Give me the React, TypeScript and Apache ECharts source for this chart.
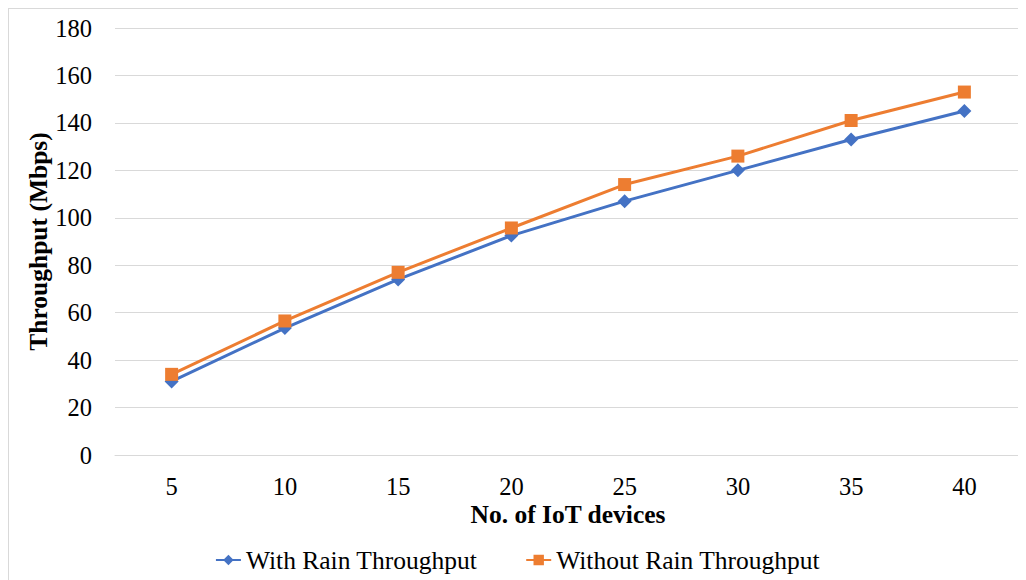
import React, { useEffect, useRef } from "react";
import * as echarts from "echarts";

const categories = ["5", "10", "15", "20", "25", "30", "35", "40"];
const withRain = [31, 53.5, 74, 92.5, 107, 120, 133, 145];
const withoutRain = [34, 56.5, 77, 95.7, 114, 126, 141, 153];
const seriesNames = ["With Rain Throughput", "Without Rain Throughput"];

const FONT = '"Times New Roman", "Liberation Serif", serif';

export default function App() {
  const ref = useRef<HTMLDivElement>(null);
  useEffect(() => {
    if (!ref.current) return;
    const chart = echarts.init(ref.current, null, { renderer: "svg" });
    chart.setOption({
      animation: false,
      textStyle: { fontFamily: FONT, color: "#000" },
      grid: { left: 106, right: 5, top: 19, bottom: 125 },
      legend: {
        bottom: 2,
        left: "center",
        itemGap: 48,
        itemWidth: 25,
        itemHeight: 13,
        textStyle: { fontFamily: FONT, fontSize: 25.5, color: "#000" },
        data: seriesNames,
      },
      xAxis: {
        type: "category",
        data: categories,
        boundaryGap: true,
        axisLine: { lineStyle: { color: "#d9d9d9", width: 1 } },
        axisTick: { show: false },
        axisLabel: { fontFamily: FONT, fontSize: 24.5, color: "#000", margin: 19 },
        name: "No. of IoT devices",
        nameLocation: "middle",
        nameGap: 46,
        nameMoveOverlap: false,
        nameTextStyle: { fontFamily: FONT, fontSize: 25.5, fontWeight: "bold", color: "#000" },
      },
      yAxis: {
        type: "value",
        min: 0,
        max: 180,
        interval: 20,
        axisLine: { show: false },
        axisTick: { show: false },
        splitLine: { lineStyle: { color: "#d9d9d9", width: 1 } },
        axisLabel: { fontFamily: FONT, fontSize: 24.5, color: "#000", margin: 23 },
        name: "Throughput (Mbps)",
        nameLocation: "middle",
        nameGap: 64,
        nameMoveOverlap: false,
        nameTextStyle: { fontFamily: FONT, fontSize: 25.5, fontWeight: "bold", color: "#000" },
      },
      series: [
        {
          name: seriesNames[0],
          type: "line",
          data: withRain,
          symbol: "diamond",
          symbolSize: 14,
          itemStyle: { color: "#4472C4" },
          lineStyle: { color: "#4472C4", width: 3 },
        },
        {
          name: seriesNames[1],
          type: "line",
          data: withoutRain,
          symbol: "rect",
          symbolSize: 13,
          itemStyle: { color: "#ED7D31" },
          lineStyle: { color: "#ED7D31", width: 3 },
        },
      ],
    });
    return () => chart.dispose();
  }, []);
  return (
    <div
      style={{
        width: 1018,
        height: 572,
        borderLeft: "1px solid #d9d9d9",
        borderTop: "1px solid #d9d9d9",
        boxSizing: "border-box",
        overflow: "hidden",
      }}
    >
      <div ref={ref} style={{ width: 1017, height: 571 }} />
    </div>
  );
}
